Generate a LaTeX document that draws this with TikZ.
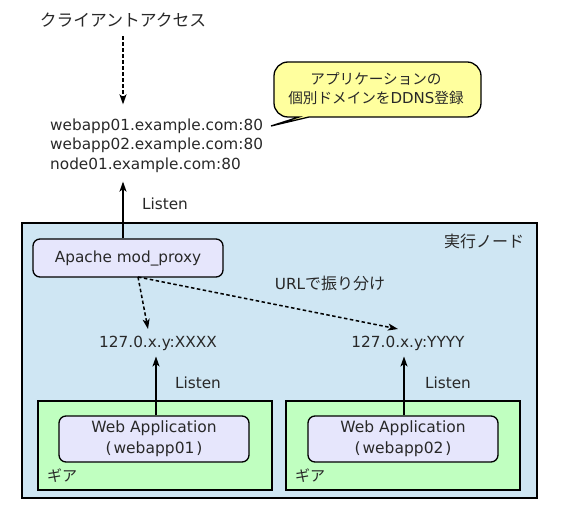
\documentclass[tikz,border=0pt]{standalone}
\usepackage{fontspec}
\setmainfont{DejaVu Sans}
\newfontfamily\jpfam{Noto Sans CJK JP}
\usetikzlibrary{arrows.meta,calc}
\newcommand\jpf[2][15.5]{{\jpfam\fontsize{#1}{20}\selectfont #2}}
\definecolor{txt}{RGB}{40,40,40}
\definecolor{nodeblue}{RGB}{207,230,243}
\definecolor{geargreen}{RGB}{192,255,192}
\definecolor{procviolet}{RGB}{230,230,252}
\definecolor{noteyellow}{RGB}{255,255,158}
\tikzset{
  lbl/.style={inner sep=2pt, text=txt, font=\fontsize{15.3}{20}\selectfont},
  procbox/.style={draw=black, line width=1.3pt, fill=procviolet, rounded corners=7pt, inner sep=0pt, text=txt, font=\fontsize{15.5}{21}\selectfont, align=center},
  areabox/.style={draw=black, line width=1.3pt},
  arr/.style={line width=1.5pt, -{Stealth[length=10pt,width=7pt,inset=2.5pt]}},
  dasharr/.style={line width=1.5pt, dash pattern=on 3.5pt off 2.5pt, -{Stealth[length=10pt,width=7pt,inset=2.5pt]}},
}
\begin{document}
\begin{tikzpicture}[x=1pt,y=-1pt]
\useasboundingbox (0,0) rectangle (564,518);
% execution node area
\draw[areabox, fill=nodeblue] (22,223) rectangle (537,498);
\node[lbl] (execlbl) at (484,241) {\jpf[16]{実行ノード}};
% gears
\draw[areabox, fill=geargreen] (38,401) rectangle (272,490);
\draw[areabox, fill=geargreen] (286,401) rectangle (520,490);
\node[lbl] (gear1) at (62,476) {\jpf[15]{ギア}};
\node[lbl] (gear2) at (310,476) {\jpf[15]{ギア}};
% web applications
\node[procbox, minimum width=190pt, minimum height=46pt] (app1) at (154,439)
  {Web Application\\\makebox[10pt]{(}webapp01\makebox[10pt]{)}};
\node[procbox, minimum width=190pt, minimum height=46pt] (app2) at (403,439)
  {Web Application\\\makebox[10pt]{(}webapp02\makebox[10pt]{)}};
% apache
\node[procbox, minimum width=190pt, minimum height=38pt, font=\fontsize{15.3}{20}\selectfont] (apache) at (128,258) {Apache mod\_proxy};
% listen addresses
\node[lbl] (portx) at (158,343) {127.0.x.y:XXXX};
\node[lbl] (porty) at (408,343) {127.0.x.y:YYYY};
\node[lbl] (url) at (330,283) {URL\jpf[16]{で振り分け}};
\node[lbl] (listen2) at (198,383) {Listen};
\node[lbl] (listen3) at (448,383) {Listen};
% top
\node[lbl] (client) at (123,20) {\jpf[16.8]{クライアントアクセス}};
\node[lbl, anchor=west] (d1) at (48,126) {webapp01.example.com:80};
\node[lbl, anchor=west] (d2) at (48,145) {webapp02.example.com:80};
\node[lbl, anchor=west] (d3) at (48,165) {node01.example.com:80};
\node[lbl] (listen1) at (165,204) {Listen};
% callout
\draw[line width=1.3pt, fill=noteyellow]
  (271,126) -- (309,117) [rounded corners=14pt] -- (481,117) -- (481,62) -- (274,62) -- (274,117) [sharp corners] -- (299,117) -- cycle;
\node[lbl, align=center, font=\fontsize{15}{19}\selectfont] (note) at (376,89)
  {\jpf[14.6]{アプリケーションの}\\\jpf[14.6]{個別ドメインを}DDNS\jpf[14.6]{登録}};
% connectors
\coordinate (ax) at (123,0);
\coordinate (px) at (156,0);
\coordinate (py) at (404,0);
\coordinate (fork) at (138,277);
\coordinate (tipx) at (148,329);
\coordinate (tipy) at (398,329);
\draw[dasharr] (client.south -| ax) ++(0,7) -- ($(ax |- d1.north)+(0,-12)$);
\draw[arr] (apache.north -| ax) -- ($(ax |- d3.south)+(0,7)$);
\draw[dasharr] (fork) -- (tipx);
\draw[dasharr] (fork) -- (tipy);
\draw[arr] (app1.north -| px) -- ($(px |- portx.south)+(0,4)$);
\draw[arr] (app2.north -| py) -- ($(py |- porty.south)+(0,4)$);
\end{tikzpicture}
\end{document}
